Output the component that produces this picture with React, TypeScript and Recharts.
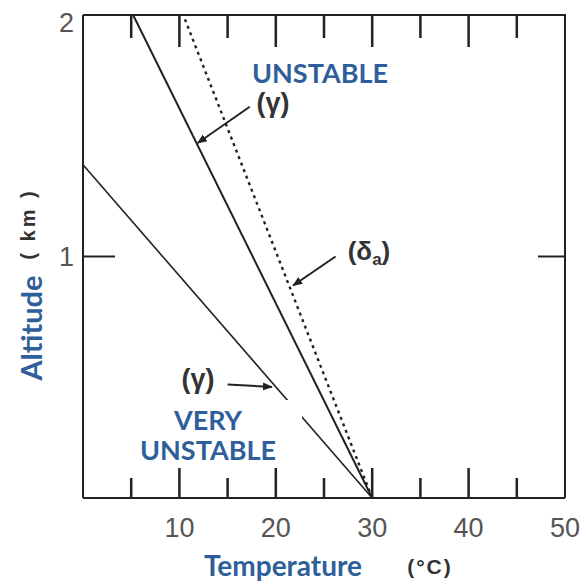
import { LineChart, Line, XAxis, YAxis, ReferenceLine } from 'recharts';

// lapse-rate lines: [temperature °C, altitude km]
const steepGamma = [
  { temp: 30, alt: 0 },
  { temp: 5.2, alt: 2 },
];
const dryAdiabat = [
  { temp: 30, alt: 0 },
  { temp: 10.4, alt: 2 },
];
const shallowGamma = [
  { temp: 30, alt: 0 },
  { temp: 0, alt: 1.38 },
];

const xTicks = [5, 10, 15, 20, 25, 30, 35, 40, 45, 50];
const yTicks = [1, 2];
const X_MAX = 50;
const Y_MAX = 2;

// arrows from the labels to the lines (data coords)
const arrowGammaUpper = [{ x: 17.3, y: 1.62 }, { x: 11.9, y: 1.47 }];
const arrowDelta = [{ x: 26.2, y: 1.0 }, { x: 21.8, y: 0.88 }];
const arrowGammaLower = [{ x: 15.0, y: 0.47 }, { x: 19.6, y: 0.46 }];

const INK = '#222';
const BLUE = '#2f5f9a';

const W = 582;
const H = 583;
const M = { top: 15, right: 17, bottom: 45, left: 23 };
const Y_AXIS_W = 60;
const X_AXIS_H = 40;
// plot box, used for the top / right frame drawn over the chart
const PL = M.left + Y_AXIS_W;
const PR = W - M.right;
const PT = M.top;
const PB = H - M.bottom - X_AXIS_H;

const BottomTick = (props: any) => {
  const { x, y, payload } = props;
  const v = Number(payload.value);
  const major = v % 10 === 0;
  const len = v >= X_MAX ? 0 : major ? 30 : 20;
  return (
    <g>
      {len > 0 && <rect x={x - 1.25} y={y - len} width={2.5} height={len} fill={INK} />}
      {major && (
        <text x={x} y={y + 39} textAnchor="middle" fontSize={27} fill="#555" fontFamily="Liberation Sans, Arial, sans-serif">
          {v}
        </text>
      )}
    </g>
  );
};

const LeftTick = (props: any) => {
  const { x, y, payload } = props;
  const v = Number(payload.value);
  return (
    <g>
      {v < Y_MAX && <path d={`M${x},${y}H${x + 32}`} stroke={INK} strokeWidth={2} fill="none" />}
      <text x={x - 9} y={y + (v === Y_MAX ? 8 : 0)} textAnchor="end" dominantBaseline="central" fontSize={27} fill="#555" fontFamily="Liberation Sans, Arial, sans-serif">
        {v}
      </text>
    </g>
  );
};

export default function App() {
  const txt = { fontFamily: 'Liberation Sans, Arial, sans-serif', fontWeight: 700, fill: '#333' } as const;
  const blue = { fontFamily: 'Lato, sans-serif', fontWeight: 700, fill: BLUE } as const;
  const sx = (v: number) => PL + (v / X_MAX) * (PR - PL);
  const sy = (v: number) => PB - (v / Y_MAX) * (PB - PT);
  return (
    <div style={{ position: 'absolute', left: 0, top: 0, width: W, height: H, background: 'white' }}>
      <LineChart width={W} height={H} margin={M}>
        <defs>
          <marker id="arrow" viewBox="0 0 10 10" refX="9" refY="5" markerWidth="10" markerHeight="10" orient="auto" markerUnits="userSpaceOnUse">
            <path d="M0,1 L10,5 L0,9 z" fill={INK} />
          </marker>
        </defs>
        <XAxis
          type="number"
          dataKey="temp"
          domain={[0, X_MAX]}
          ticks={xTicks}
          interval={0}
          height={X_AXIS_H}
          tickSize={0}
          tickMargin={0}
          tickLine={false}
          axisLine={{ stroke: INK, strokeWidth: 2 }}
          tick={<BottomTick />}
        />
        <YAxis
          type="number"
          dataKey="alt"
          domain={[0, Y_MAX]}
          ticks={yTicks}
          interval={0}
          width={Y_AXIS_W}
          tickSize={0}
          tickMargin={0}
          tickLine={false}
          axisLine={{ stroke: INK, strokeWidth: 2 }}
          tick={<LeftTick />}
        />
        <Line data={steepGamma} dataKey="alt" stroke={INK} strokeWidth={2} dot={false} isAnimationActive={false} />
        <Line data={dryAdiabat} dataKey="alt" stroke={INK} strokeWidth={2.4} strokeDasharray="3 4" dot={false} isAnimationActive={false} />
        <Line data={shallowGamma} dataKey="alt" stroke={INK} strokeWidth={1.6} dot={false} isAnimationActive={false} />
        {[arrowGammaUpper, arrowDelta, arrowGammaLower].map((seg, i) => (
          <ReferenceLine key={i} segment={seg} stroke={INK} strokeWidth={2} markerEnd="url(#arrow)" ifOverflow="visible" />
        ))}
      </LineChart>
      <svg width={W} height={H} style={{ position: 'absolute', left: 0, top: 0, pointerEvents: 'none' }}>
        {/* top and right frame with inward ticks */}
        <path d={`M${PL},${PT}H${PR}V${PB}`} stroke={INK} strokeWidth={2} fill="none" />
        {xTicks.filter((v) => v < X_MAX).map((v) => (
          <rect key={v} x={sx(v) - 1.25} y={PT} width={2.5} height={v % 10 === 0 ? 32 : 23} fill={INK} />
        ))}
        {yTicks.filter((v) => v < Y_MAX).map((v) => (
          <path key={`r${v}`} d={`M${PR},${sy(v)}H${PR - 27}`} stroke={INK} strokeWidth={2} fill="none" />
        ))}
        <rect x={225} y={50} width={172} height={36} fill="white" />
        <text x={320} y={83} textAnchor="middle" fontSize={27} {...blue}>UNSTABLE</text>
        <text x={273} y={112} textAnchor="middle" fontSize={27} {...txt}>(γ)</text>
        <text x={369} y={260} textAnchor="middle" fontSize={26} {...txt}>
          (δ<tspan fontSize={17} dy={5}>a</tspan><tspan dy={-5}>)</tspan>
        </text>
        <text x={198} y={388} textAnchor="middle" fontSize={27} {...txt}>(γ)</text>
        <rect x={135} y={400} width={167} height={61} fill="white" />
        <text x={208} y={430} textAnchor="middle" fontSize={27} {...blue}>VERY</text>
        <text x={208} y={460} textAnchor="middle" fontSize={27} {...blue}>UNSTABLE</text>
        <text x={283} y={576} textAnchor="middle" fontSize={28} {...blue}>Temperature</text>
        <text x={430} y={574} textAnchor="middle" fontSize={21} letterSpacing={2} {...txt}>(°C)</text>
        <text transform="translate(42,328) rotate(-90)" textAnchor="middle" fontSize={29} {...blue}>Altitude</text>
        <text transform="translate(35,224) rotate(-90)" textAnchor="middle" fontSize={20} letterSpacing={3} {...txt}>( km )</text>
      </svg>
    </div>
  );
}
